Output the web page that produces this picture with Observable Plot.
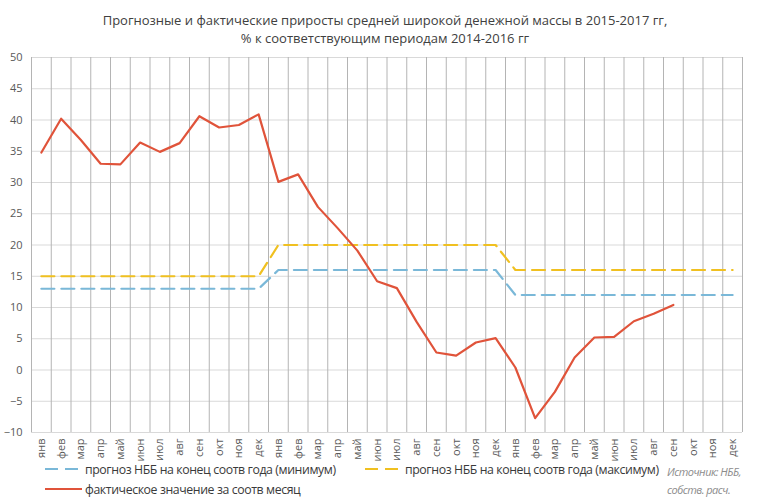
<!DOCTYPE html>
<html>
<head>
<meta charset="utf-8">
<script src="https://cdn.jsdelivr.net/npm/d3@7"></script>
<script src="https://cdn.jsdelivr.net/npm/@observablehq/plot@0.6"></script>
<style>
  html, body { margin: 0; padding: 0; background: #fff; }
  #wrap { position: relative; width: 760px; height: 503px; font-family: "Open Sans", "Noto Sans", sans-serif; overflow: hidden; }
  #title { position: absolute; left: 0; top: 11px; width: 770px; text-align: center; font-size: 13px; line-height: 18px; color: #404040; }
  #chart { position: absolute; left: 0; top: 50px; }
  .leg { position: absolute; font-size: 12.3px; color: #3a3a3a; letter-spacing: -0.4px; white-space: nowrap; }
  .sw { position: absolute; }
  .src { position: absolute; left: 667px; top: 463px; font-size: 11px; line-height: 18px; color: #8c8c8c; font-style: italic; letter-spacing: -0.5px; }
</style>
</head>
<body>
<div id="wrap">
  <div id="title">Прогнозные и фактические приросты средней широкой денежной массы в 2015-2017 гг,<br>% к соответствующим периодам 2014-2016 гг</div>
  <div id="chart"></div>
  <svg class="sw" style="left:44px;top:464px" width="40" height="10"><line x1="1" x2="38" y1="5" y2="5" stroke="#7ab8d8" stroke-width="2.2" stroke-dasharray="13,7"/></svg>
  <div class="leg" style="left:85px;top:461px">прогноз НББ на конец соотв года (минимум)</div>
  <svg class="sw" style="left:364px;top:464px" width="40" height="10"><line x1="1" x2="38" y1="5" y2="5" stroke="#f0c020" stroke-width="2.2" stroke-dasharray="13,7"/></svg>
  <div class="leg" style="left:405px;top:461px">прогноз НББ на конец соотв года (максимум)</div>
  <svg class="sw" style="left:44px;top:484px" width="40" height="10"><line x1="1" x2="38" y1="5" y2="5" stroke="#e0533a" stroke-width="2.2"/></svg>
  <div class="leg" style="left:85px;top:481px">фактическое значение за соотв месяц</div>
  <div class="src">Источник: НББ,<br>собств. расч.</div>
</div>
<script>
const months = ["янв","фев","мар","апр","май","июн","июл","авг","сен","окт","ноя","дек"];
const years = [2015, 2016, 2017];
const forecastMin = [13, 16, 12];
const forecastMax = [15, 20, 16];
const actual = [
  34.8, 40.2, 36.8, 33.0, 32.9, 36.4, 34.9, 36.3, 40.6, 38.8, 39.2, 40.9,
  30.1, 31.3, 26.1, 22.7, 19.1, 14.2, 13.1, 7.7, 2.8, 2.3, 4.4, 5.1,
  0.4, -7.7, -3.5, 2.0, 5.2, 5.3, 7.8, 9.0, 10.4
];
const yTicks = [-10, -5, 0, 5, 10, 15, 20, 25, 30, 35, 40, 45, 50];

const rows = [];
years.forEach((yr, yi) => {
  months.forEach((m, mi) => {
    const i = yi * 12 + mi;
    rows.push({i, month: m, year: yr, min: forecastMin[yi], max: forecastMax[yi], actual: i < actual.length ? actual[i] : null});
  });
});
const idx = rows.map(d => d.i);
const bounds = [-0.5, ...idx.map(i => i + 0.5)];

const chart = Plot.plot({
  width: 760,
  height: 412,
  marginTop: 7,
  marginBottom: 30,
  marginLeft: 31,
  marginRight: 18,
  style: {fontFamily: '"Open Sans", "Noto Sans", sans-serif', background: "#fff", overflow: "visible"},
  x: {type: "linear", domain: [-0.5, 35.5], axis: null, label: null},
  y: {domain: [-10, 50], axis: null, label: null},
  marks: [
    Plot.ruleY(yTicks, {stroke: "#d9d9d9", strokeWidth: 1}),
    Plot.ruleX(bounds, {y1: -10, y2: 50, stroke: "#b4b4b4", strokeWidth: 1}),
    Plot.axisY(yTicks, {tickSize: 0, tickPadding: 9, fontSize: 11, fill: "#595959", label: null}),
    Plot.axisX(idx, {tickSize: 0, tickPadding: 6, tickRotate: -90, tickFormat: i => months[i % 12], fontSize: 11, fill: "#595959", label: null}),
    Plot.lineY(rows, {x: "i", y: "min", stroke: "#7ab8d8", strokeWidth: 2.2, strokeDasharray: "13,7"}),
    Plot.lineY(rows, {x: "i", y: "max", stroke: "#f0c020", strokeWidth: 2.2, strokeDasharray: "13,7"}),
    Plot.lineY(rows.filter(d => d.actual != null), {x: "i", y: "actual", stroke: "#e0533a", strokeWidth: 2.2})
  ]
});
document.getElementById("chart").appendChild(chart);
</script>
</body>
</html>
